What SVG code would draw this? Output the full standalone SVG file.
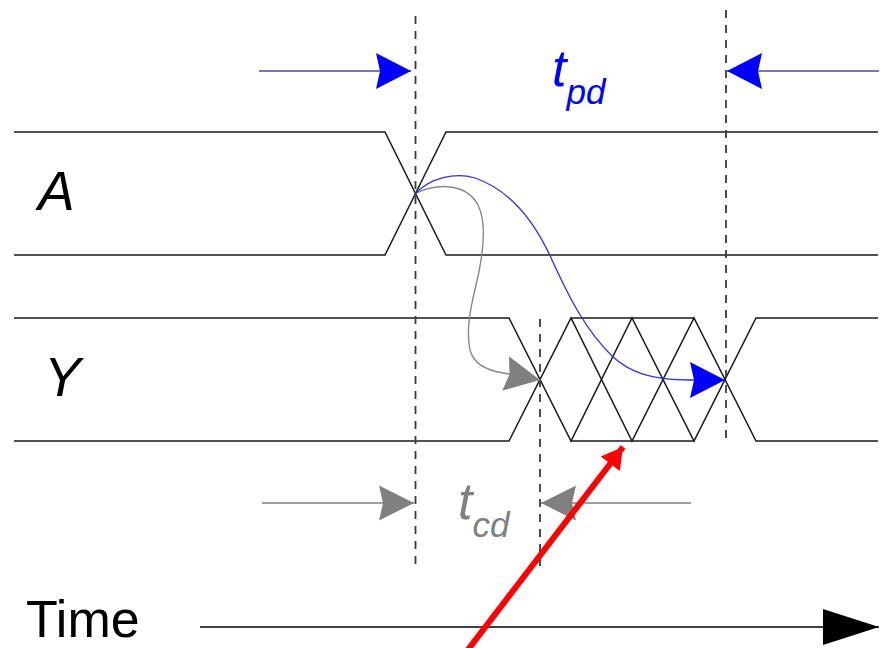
<svg xmlns="http://www.w3.org/2000/svg" width="886" height="648" viewBox="0 0 886 648">
<style>
.sig{fill:none;stroke:#1a1a1a;stroke-width:1.5}
.dash{fill:none;stroke:#3a3a3a;stroke-width:1.8;stroke-dasharray:8 7}
.lbl{font-family:"Liberation Sans",Arial,sans-serif;font-style:italic;font-size:55px;fill:#000}
.time{font-family:"Liberation Sans",Arial,sans-serif;font-size:52px;fill:#000}
.tsym{font-family:"Liberation Sans",Arial,sans-serif;font-style:italic;font-size:52px}
.bl{stroke:#4545c0;stroke-width:1.5;fill:none}
.gr{stroke:#808080;stroke-width:1.5;fill:none}
</style>
<defs>
<marker id="mBlue" markerUnits="userSpaceOnUse" markerWidth="40" markerHeight="40" viewBox="-38 -20 40 40" refX="0" refY="0" orient="auto" overflow="visible"><path d="M0,0 L-35,-18 L-31,0 L-35,18 Z" fill="#0000ff"/></marker>
<marker id="mGray" markerUnits="userSpaceOnUse" markerWidth="40" markerHeight="40" viewBox="-38 -20 40 40" refX="0" refY="0" orient="auto" overflow="visible"><path d="M0,0 L-35,-17.5 L-31,0 L-35,17.5 Z" fill="#808080"/></marker>
<marker id="mBlack" markerUnits="userSpaceOnUse" markerWidth="60" markerHeight="40" viewBox="-58 -20 60 40" refX="0" refY="0" orient="auto" overflow="visible"><path d="M0,0 L-56,-18 L-56,18 Z" fill="#000"/></marker>
<marker id="mRed" markerUnits="userSpaceOnUse" markerWidth="30" markerHeight="30" viewBox="-25 -15 30 30" refX="0" refY="0" orient="auto" overflow="visible"><path d="M0,0 L-21,-12 L-21,12 Z" fill="#ff0000"/></marker>
</defs>

<g id="signal-A">
<path class="sig" d="M14,132 H385 L446,255 H878"/>
<path class="sig" d="M14,255 H385 L446,132 H878"/>
<text class="lbl" x="38" y="210">A</text>
</g>

<g id="signal-Y">
<path class="sig" d="M14,318 H509 L571,441 L632,318 L694,441 L756,318 H878"/>
<path class="sig" d="M14,441 H509 L571,318 L632,441 L694,318 L756,441 H878"/>
<path class="sig" d="M571,318 H694 M571,441 H694"/>
<text class="lbl" x="44" y="396">Y</text>
</g>

<g id="guides">
<line class="dash" x1="415.5" y1="16" x2="415.5" y2="566"/>
<line class="dash" x1="540" y1="319" x2="540" y2="566"/>
<line class="dash" x1="726" y1="10" x2="726" y2="441"/>
</g>

<g id="label-tpd">
<text class="tsym" x="552" y="86" fill="#0000ff">t<tspan dy="18" font-size="35">pd</tspan></text>
</g>

<g id="label-tcd">
<text class="tsym" x="458" y="519" fill="#808080">t<tspan dy="18" font-size="35">cd</tspan></text>
</g>

<g id="label-time">
<text class="time" x="26" y="637">Time</text>
</g>

<g id="connectors">
<line class="bl" x1="259" y1="71" x2="411" y2="71" marker-end="url(#mBlue)"/>
<line class="bl" x1="879" y1="71" x2="727" y2="71" marker-end="url(#mBlue)"/>
<line class="gr" x1="262" y1="503" x2="414" y2="503" marker-end="url(#mGray)"/>
<line class="gr" x1="691" y1="503" x2="541" y2="503" marker-end="url(#mGray)"/>
<path fill="none" stroke="#888" stroke-width="1.4" d="M415.5,193.5 C430,185 465,180 478,205 C488,225 482,260 476,285 C470,310 466,330 470,350 C474,365 490,371 503.5,373 L540,380" marker-end="url(#mGray)"/>
<path fill="none" stroke="#3030e0" stroke-width="1.3" d="M415.5,193.5 C430,178 455,172 475,178 C510,190 535,222 552,260 C568,295 585,330 613,357 C630,372 650,380 690,380 L725,380" marker-end="url(#mBlue)"/>
<line stroke="#000" stroke-width="1.5" x1="200" y1="627" x2="879" y2="627" marker-end="url(#mBlack)"/>
<line stroke="#ff0000" stroke-width="6" x1="467" y1="651" x2="623" y2="447" marker-end="url(#mRed)"/>
</g>
</svg>
